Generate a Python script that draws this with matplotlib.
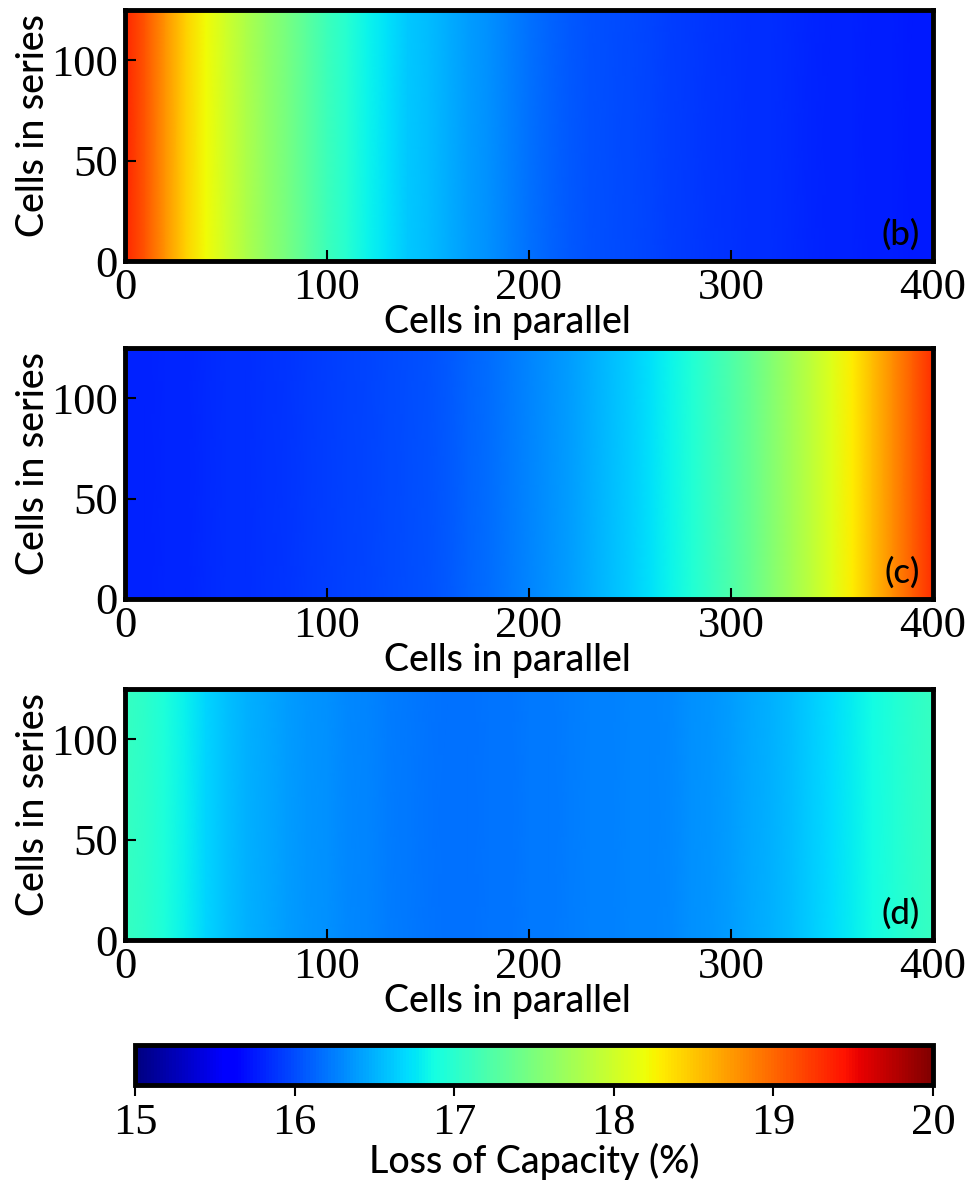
import numpy as np
import matplotlib
matplotlib.use('Agg')
import matplotlib.pyplot as plt

# Cells in parallel (sampled every 10 cells) and cells in series range
cells_parallel = np.arange(0, 401, 10)
cells_series = [0, 125]

# Loss of capacity (%) along cells in parallel
loss_b = [19.35, 19.1, 18.75, 18.45, 18.22, 18.0, 17.8, 17.62, 17.47, 17.3,
          17.12, 16.98, 16.82, 16.72, 16.62, 16.55, 16.47, 16.4, 16.33, 16.25,
          16.18, 16.12, 16.07, 16.02, 16.0, 15.98, 15.96, 15.93, 15.91, 15.89,
          15.87, 15.85, 15.84, 15.83, 15.82, 15.8, 15.79, 15.78, 15.77, 15.76,
          15.75]
loss_c = [15.8, 15.8, 15.81, 15.82, 15.83, 15.84, 15.85, 15.86, 15.88, 15.9,
          15.92, 15.94, 15.96, 15.98, 16.0, 16.03, 16.07, 16.12, 16.17, 16.22,
          16.28, 16.34, 16.4, 16.47, 16.55, 16.63, 16.72, 16.82, 16.95, 17.08,
          17.22, 17.38, 17.55, 17.72, 17.9, 18.1, 18.3, 18.55, 18.8, 19.05,
          19.3]
loss_d = [17.08, 17.02, 16.92, 16.8, 16.67, 16.58, 16.5, 16.45, 16.4, 16.36,
          16.33, 16.3, 16.27, 16.24, 16.22, 16.2, 16.19, 16.19, 16.2, 16.2,
          16.22, 16.23, 16.24, 16.25, 16.26, 16.27, 16.28, 16.3, 16.33, 16.36,
          16.4, 16.45, 16.5, 16.56, 16.63, 16.7, 16.78, 16.87, 16.95, 17.02,
          17.08]
panel_labels = ['(b)', '(c)', '(d)']
cbar_ticks = [15, 16, 17, 18, 19, 20]

serif = 'Liberation Serif'
sans = 'Lato'

W, H = 971, 1185
fig = plt.figure(figsize=(W / 100, H / 100), dpi=100)

# axes boxes in pixels: left, top, right, bottom
boxes = [(125, 10, 933, 261), (125, 348, 933, 599), (125, 689, 933, 940)]

X, Y = np.meshgrid(cells_parallel, cells_series)
mesh = None
for (l, t, r, b), vals, lab in zip(boxes, [loss_b, loss_c, loss_d], panel_labels):
    ax = fig.add_axes([l / W, 1 - b / H, (r - l) / W, (b - t) / H])
    Z = np.vstack([vals, vals])
    mesh = ax.pcolormesh(X, Y, Z, cmap='jet', vmin=15, vmax=20, shading='gouraud')
    ax.set_xlim(0, 400)
    ax.set_ylim(0, 125)
    ax.set_xticks([0, 100, 200, 300, 400])
    ax.set_yticks([0, 50, 100])
    ax.tick_params(direction='in', length=8, width=1.5, top=False, right=False, pad=5)
    for tl in ax.get_xticklabels() + ax.get_yticklabels():
        tl.set_fontfamily(serif)
        tl.set_fontsize(32)
    for s in ax.spines.values():
        s.set_linewidth(3.5)
    ax.set_xlabel('Cells in parallel', fontfamily=sans, fontsize=27, fontweight='medium')
    ax.xaxis.set_label_coords(0.473, -0.176)
    ax.set_ylabel('Cells in series', fontfamily=sans, fontsize=27, fontweight='medium')
    ax.yaxis.set_label_coords(-0.092, 0.54)
    ax.text(0.984, 0.04, lab, transform=ax.transAxes, ha='right', va='bottom',
            fontfamily=sans, fontsize=25, fontweight='medium')

cax = fig.add_axes([135 / W, 1 - 1085 / H, (933 - 135) / W, 40 / H])
cb = fig.colorbar(mesh, cax=cax, orientation='horizontal', ticks=cbar_ticks)
cb.outline.set_linewidth(3.5)
cax.tick_params(direction='out', length=8, width=1.5, pad=5)
for tl in cax.get_xticklabels():
    tl.set_fontfamily(serif)
    tl.set_fontsize(32)
cb.set_label('Loss of Capacity (%)', fontfamily=sans, fontsize=27,
             fontweight='medium', labelpad=0)

plt.savefig('out.png', dpi=100)
